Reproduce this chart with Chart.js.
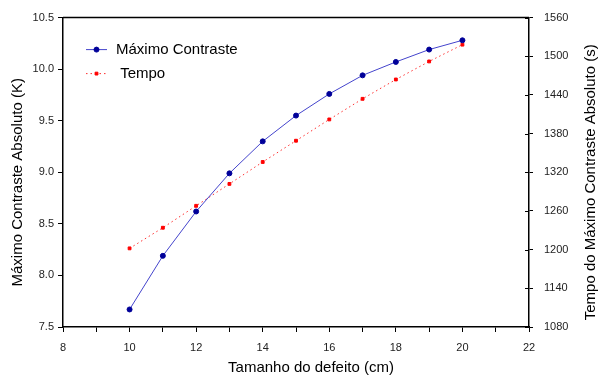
<!DOCTYPE html>
<html>
<head>
<meta charset="utf-8">
<script src="https://cdn.jsdelivr.net/npm/chart.js@4.4.0/dist/chart.umd.min.js"></script>
<style>
  html, body { margin: 0; padding: 0; background: #fff; }
  #wrap { width: 599px; height: 376px; }
</style>
</head>
<body>
<div id="wrap"><canvas id="contrastChart" width="599" height="376"></canvas></div>
<script>
// defect size (cm)
const defectSizes = [10, 11, 12, 13, 14, 15, 16, 17, 18, 19, 20];
// maximum absolute contrast (K)
const maxContrast = [7.67, 8.19, 8.62, 8.99, 9.30, 9.55, 9.76, 9.94, 10.07, 10.19, 10.28];
// time of maximum absolute contrast (s)
const peakTime = [1202, 1234, 1268, 1302, 1336, 1369, 1402, 1434, 1464, 1492, 1518];

const seriesLabels = ["Máximo Contraste", " Tempo"];
const xTitle = "Tamanho do defeito (cm)";
const yTitle = "Máximo Contraste Absoluto (K)";
const y1Title = "Tempo do Máximo Contraste Absoluto (s)";

const FONT = "'Liberation Sans', Arial, sans-serif";
const tickFont = { family: FONT, size: 11 };
const tickColor = "#222";

// top frame line + inward half of right axis ticks
const framePlugin = {
  id: "frame",
  afterDraw(chart) {
    const { ctx, chartArea } = chart;
    const right = chart.scales.y1;
    ctx.save();
    ctx.strokeStyle = "#000";
    ctx.lineWidth = 1.5;
    ctx.beginPath();
    ctx.moveTo(chartArea.left, chartArea.top);
    ctx.lineTo(chartArea.right, chartArea.top);
    ctx.stroke();
    ctx.lineWidth = 1;
    right.ticks.forEach(t => {
      const y = Math.round(right.getPixelForValue(t.value)) + 0.5;
      ctx.beginPath();
      ctx.moveTo(chartArea.right - 4, y);
      ctx.lineTo(chartArea.right, y);
      ctx.stroke();
    });
    ctx.restore();
  }
};

// axis titles, both vertical ones read bottom to top
const axisTitles = {
  id: "axisTitles",
  afterDraw(chart) {
    const { ctx, chartArea } = chart;
    const cx = (chartArea.left + chartArea.right) / 2;
    const cy = (chartArea.top + chartArea.bottom) / 2;
    ctx.save();
    ctx.fillStyle = "#000";
    ctx.font = "15px " + FONT;
    ctx.textAlign = "center";
    ctx.textBaseline = "middle";
    ctx.fillText(xTitle, cx + 15, chart.height - 8);
    const vertical = (text, x) => {
      ctx.save();
      ctx.translate(x, cy + 10);
      ctx.rotate(-Math.PI / 2);
      ctx.fillText(text, 0, 0);
      ctx.restore();
    };
    vertical(yTitle, 18);
    vertical(y1Title, chart.width - 8);
    ctx.restore();
  }
};

// legend: short line with a marker, then the label
const lineLegend = {
  id: "lineLegend",
  afterDraw(chart) {
    const { ctx, chartArea } = chart;
    const x0 = chartArea.left + 23, x1 = chartArea.left + 44;
    let y = chartArea.top + 32;
    chart.data.datasets.forEach(ds => {
      ctx.save();
      ctx.strokeStyle = ds.borderColor;
      ctx.lineWidth = ds.borderWidth;
      ctx.setLineDash(ds.borderDash || []);
      ctx.beginPath();
      ctx.moveTo(x0, y);
      ctx.lineTo(x1, y);
      ctx.stroke();
      ctx.setLineDash([]);
      ctx.fillStyle = ds.pointBackgroundColor;
      ctx.strokeStyle = ds.pointBorderColor;
      Chart.helpers.drawPoint(ctx, {
        pointStyle: ds.pointStyle, radius: ds.pointRadius, borderWidth: 1, rotation: 0
      }, (x0 + x1) / 2, y);
      ctx.fillStyle = "#000";
      ctx.font = "15px " + FONT;
      ctx.textBaseline = "middle";
      ctx.fillText(ds.label, chartArea.left + 53, y);
      ctx.restore();
      y += 24;
    });
  }
};

new Chart(document.getElementById("contrastChart"), {
  type: "line",
  data: {
    datasets: [
      {
        label: seriesLabels[0],
        data: defectSizes.map((x, i) => ({ x, y: maxContrast[i] })),
        yAxisID: "y",
        borderColor: "#4444cc",
        borderWidth: 1,
        pointStyle: "circle",
        pointRadius: 2.5,
        pointBackgroundColor: "#000099",
        pointBorderColor: "#000099",
        tension: 0,
      },
      {
        label: seriesLabels[1],
        data: defectSizes.map((x, i) => ({ x, y: peakTime[i] })),
        yAxisID: "y1",
        borderColor: "#ff3030",
        borderWidth: 1,
        borderDash: [1.5, 3],
        pointStyle: "rect",
        pointRadius: 2,
        pointBackgroundColor: "#ff0000",
        pointBorderColor: "#ff0000",
        tension: 0,
      },
    ],
  },
  options: {
    responsive: false,
    animation: false,
    layout: { padding: { top: 17, left: 0, right: 0, bottom: 0 } },
    plugins: { legend: { display: false }, tooltip: { enabled: false } },
    scales: {
      x: {
        type: "linear",
        position: "bottom",
        min: 8,
        max: 22,
        afterFit: s => { s.height = 49; },
        ticks: {
          stepSize: 1,
          autoSkip: false,
          maxRotation: 0,
          padding: 9,
          color: tickColor,
          font: tickFont,
          callback: v => (v % 2 === 0 ? v : ""),
        },
        grid: { drawOnChartArea: false, drawTicks: true, tickLength: 5, color: "#000" },
        border: { color: "#000", width: 1.5 },
      },
      y: {
        position: "left",
        min: 7.5,
        max: 10.5,
        afterFit: s => { s.width = 63; },
        ticks: { stepSize: 0.5, padding: 4, color: tickColor, font: tickFont, callback: v => v.toFixed(1) },
        grid: { drawOnChartArea: false, drawTicks: true, tickLength: 5, color: "#000" },
        border: { color: "#000", width: 1.5 },
      },
      y1: {
        position: "right",
        min: 1080,
        max: 1560,
        afterFit: s => { s.width = 70; },
        ticks: { stepSize: 60, padding: 11, color: tickColor, font: tickFont, callback: v => String(v) },
        grid: { drawOnChartArea: false, drawTicks: true, tickLength: 4, color: "#000" },
        border: { color: "#000", width: 1.5 },
      },
    },
  },
  plugins: [framePlugin, axisTitles, lineLegend],
});
</script>
</body>
</html>
